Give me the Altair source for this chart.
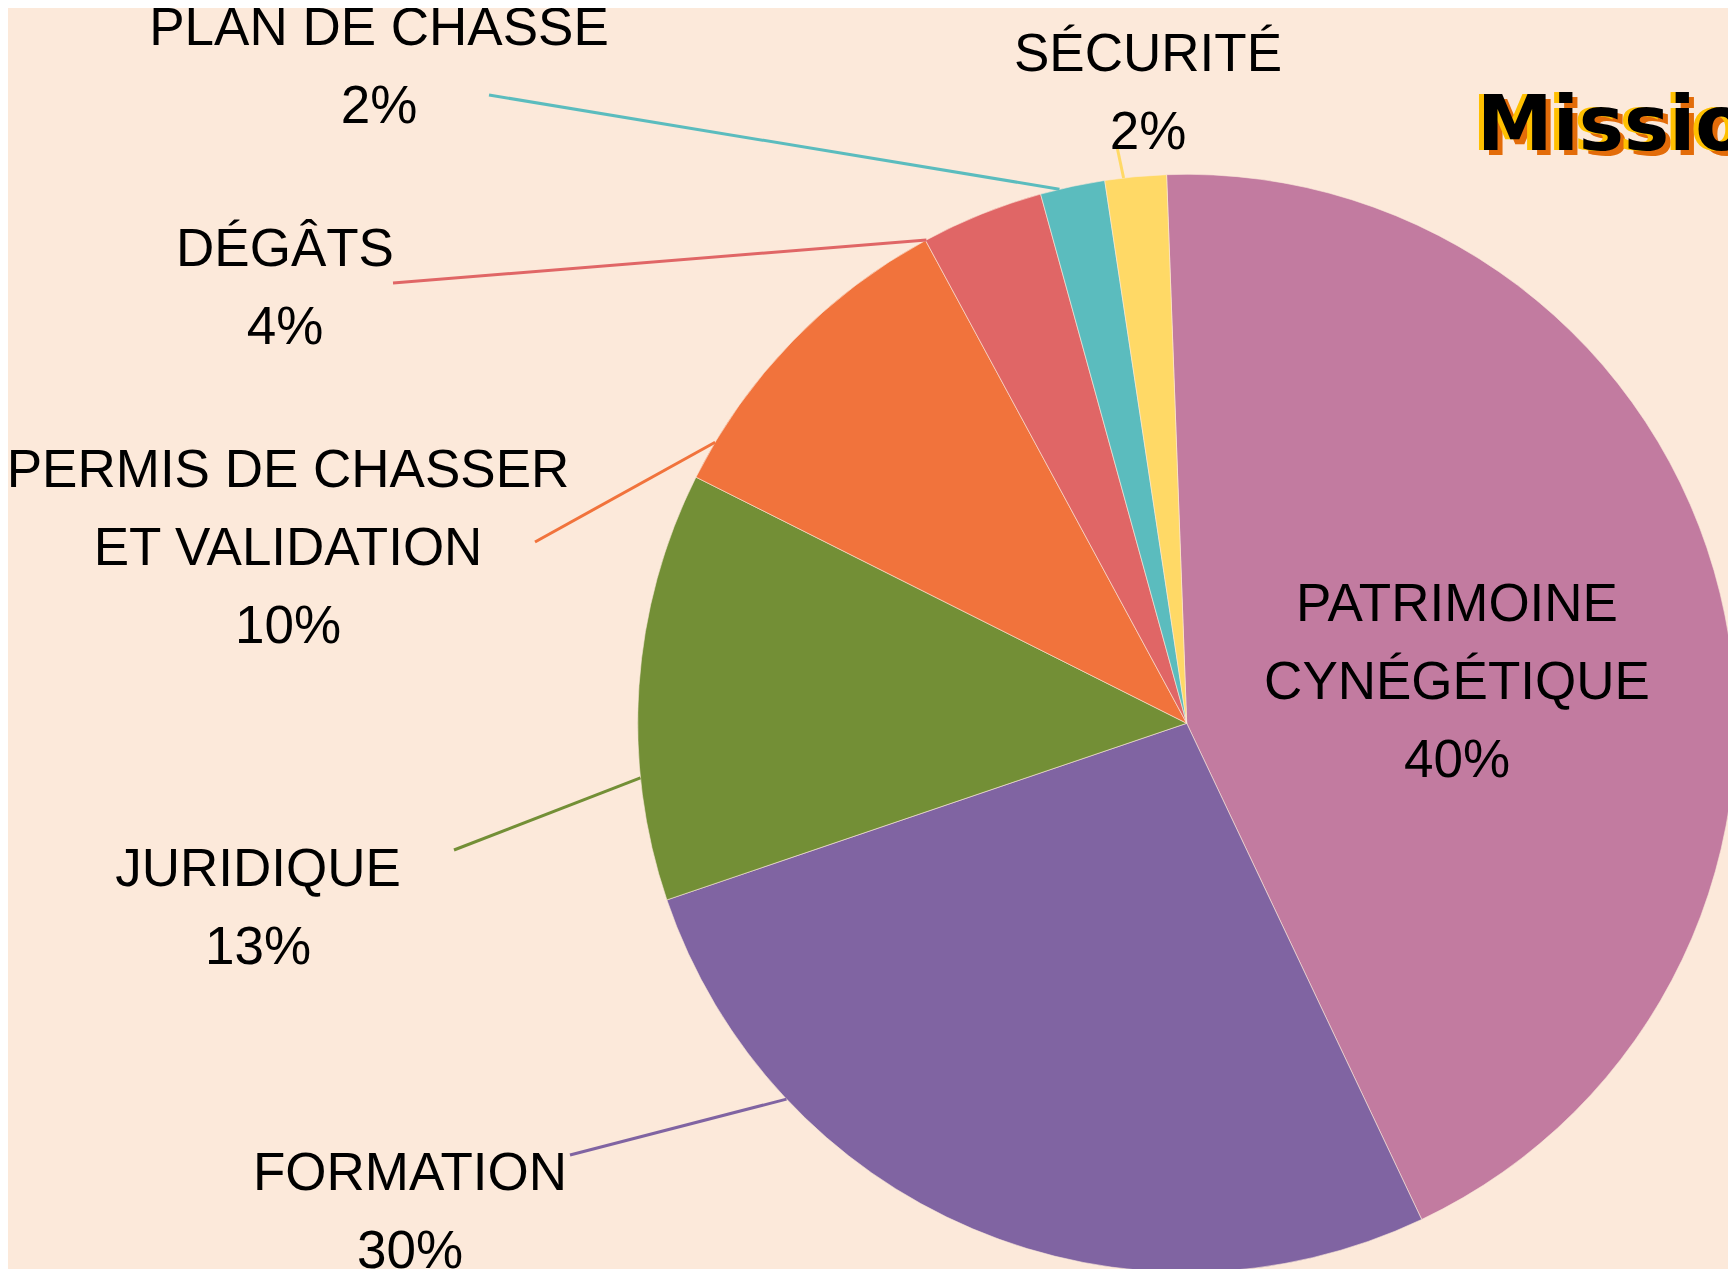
import math
import altair as alt
import pandas as pd

# ---------------- data ----------------
categories = ["PATRIMOINE CYNÉGÉTIQUE", "FORMATION", "JURIDIQUE",
              "PERMIS DE CHASSER ET VALIDATION", "DÉGÂTS", "PLAN DE CHASSE", "SÉCURITÉ"]
shares = [43.5, 26.8, 12.6, 9.7, 3.6, 1.9, 1.8]          # slice sizes as drawn
pct_labels = ["40%", "30%", "13%", "10%", "4%", "2%", "2%"]  # printed labels
label_lines = [["PATRIMOINE", "CYNÉGÉTIQUE"], ["FORMATION"], ["JURIDIQUE"],
               ["PERMIS DE CHASSER", "ET VALIDATION"], ["DÉGÂTS"], ["PLAN DE CHASSE"], ["SÉCURITÉ"]]
colors = ["#C27BA0", "#8064A2", "#738F36", "#F1733C", "#E06666", "#5BBCBE", "#FFD966"]
title_text = "Missions"

# ---------------- layout ----------------
OFF = 8
W, H = 1720, 1261
BG = "#FCE9DA"
CX, CY = 1186.7 - OFF, 723.3 - OFF
R = 549
START = math.radians(-2.1)
FS = 53
LINE_H = 78
FONT = "Liberation Sans"

# label anchor: (center x, first baseline) in page px
label_pos = [(1457, 621), (410, 1190), (258, 886), (288, 487), (285, 266), (379, 45), (1148, 71)]
# leader: outer start point (page px) and angle (deg) where it touches the pie
leaders = [None, ((570, 1155), 226.8), ((454, 850), 264.3), ((535, 542), 300.8),
           ((393, 283), 331.7), ((489, 95), 346.6), ((1116, 142), 353.4)]

pie_df = pd.DataFrame({"cat": categories, "share": shares, "order": list(range(len(categories)))})

rows = []
for i, lines in enumerate(label_lines):
    x, y = label_pos[i]
    for j, t in enumerate(lines + [pct_labels[i]]):
        rows.append({"x": x - OFF, "y": y - OFF + j * LINE_H, "t": t})
text_df = pd.DataFrame(rows)

lrows = []
for i, ld in enumerate(leaders):
    if ld is None:
        continue
    (sx, sy), a = ld
    a = math.radians(a)
    lrows.append({"cat": categories[i], "x": sx - OFF, "y": sy - OFF,
                  "x2": CX + R * math.sin(a), "y2": CY - R * math.cos(a)})
lead_df = pd.DataFrame(lrows)

color_scale = alt.Scale(domain=categories, range=colors)

pie = alt.Chart(pie_df).mark_arc(radius=R, stroke=BG, strokeWidth=0.6).encode(
    theta=alt.Theta("share:Q", stack=True, scale=alt.Scale(range=[START, START + 2 * math.pi])),
    color=alt.Color("cat:N", scale=color_scale, legend=None),
    order=alt.Order("order:Q"),
    x=alt.value(CX), y=alt.value(CY),
)

lead = alt.Chart(lead_df).mark_rule(strokeWidth=3).encode(
    x=alt.X("x:Q", scale=None), y=alt.Y("y:Q", scale=None),
    x2="x2:Q", y2="y2:Q",
    color=alt.Color("cat:N", scale=color_scale, legend=None),
)

labels = alt.Chart(text_df).mark_text(font=FONT, fontSize=FS, color="#000000",
                                      align="center", baseline="alphabetic").encode(
    x=alt.X("x:Q", scale=None), y=alt.Y("y:Q", scale=None), text="t:N")

tdf = pd.DataFrame({"t": [title_text]})
TX, TY = 1477 - OFF, 150 - OFF
def title_layer(dx, dy, col):
    return alt.Chart(tdf).mark_text(font="DejaVu Sans", fontSize=76, fontWeight="bold",
                                    color=col, align="left", baseline="alphabetic").encode(
        x=alt.value(TX + dx), y=alt.value(TY + dy), text="t:N")

title = title_layer(5, 5, "#E36C09") + title_layer(-5, 0, "#FFC000") + title_layer(0, 0, "#000000")

chart = alt.layer(pie, lead, labels, title).properties(
    width=W, height=H, background=BG, padding=0, autosize=alt.AutoSizeParams(type="none"),
).configure_view(stroke=None, fill=BG)

chart.save("out.html", embed_options={"renderer": "svg", "actions": False})
